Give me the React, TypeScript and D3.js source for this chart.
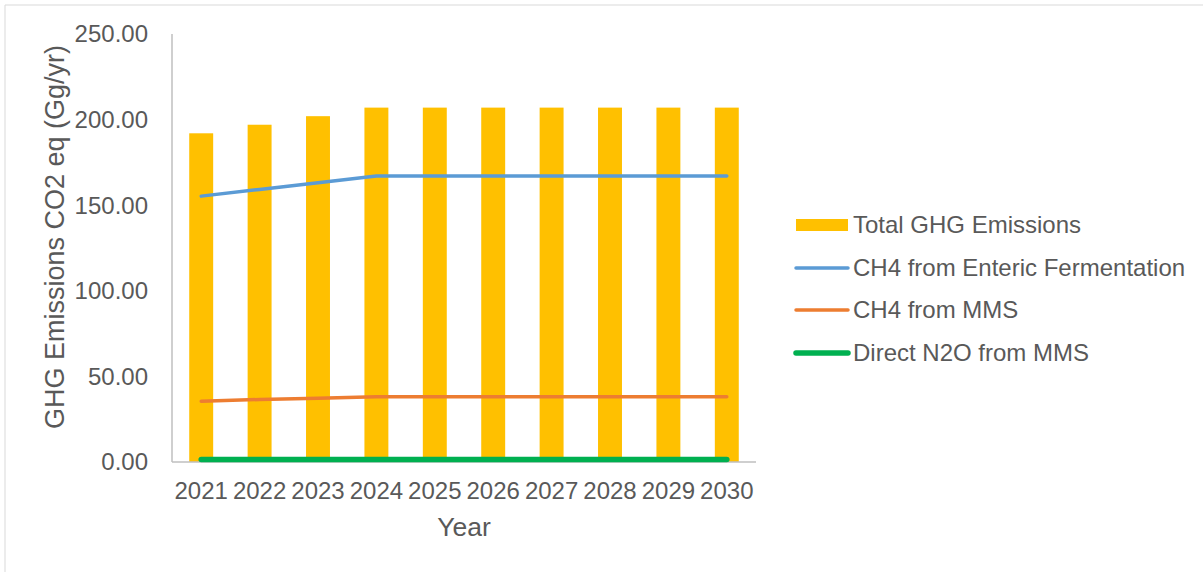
import React from "react";
import * as d3 from "d3";

const years = ["2021", "2022", "2023", "2024", "2025", "2026", "2027", "2028", "2029", "2030"];
const totalGHG = [192, 197, 202, 207, 207, 207, 207, 207, 207, 207];
const ch4Enteric = [155.3, 159.2, 163.1, 167, 167, 167, 167, 167, 167, 167];
const ch4MMS = [35.5, 36.5, 37.3, 38.1, 38.1, 38.1, 38.1, 38.1, 38.1, 38.1];
const n2oMMS = [1.5, 1.5, 1.5, 1.5, 1.5, 1.5, 1.5, 1.5, 1.5, 1.5];
const yTicks = [0, 50, 100, 150, 200, 250];

const lineSeries = [
  { name: "CH4 from Enteric Fermentation", values: ch4Enteric, color: "#5B9BD5", width: 3.5 },
  { name: "CH4 from MMS", values: ch4MMS, color: "#ED7D31", width: 3.5 },
  { name: "Direct N2O from MMS", values: n2oMMS, color: "#00B050", width: 5.5 },
];

const FONT = "'Liberation Sans', Arial, sans-serif";
const TXT = "#595959";

export default function App() {
  const W = 1203, H = 572;
  const left = 172, right = 756, top = 34, bottom = 462;
  const x = d3.scaleBand<string>().domain(years).range([left, right]).paddingInner(0.59).paddingOuter(0.295);
  const xc = d3.scaleBand<string>().domain(years).range([left, right]);
  const y = d3.scaleLinear().domain([0, 250]).range([bottom, top]);
  const line = (vals: number[]) =>
    d3.line<number>().x((_, i) => (xc(years[i]) as number) + xc.bandwidth() / 2).y((v) => y(v))(vals) as string;

  const legendX = 796;
  const legendRows = [225, 268, 310, 353];

  return (
    <svg width={W} height={H} style={{ position: "absolute", left: 0, top: 0, background: "#fff" }} fontFamily={FONT}>
      <line x1={5} x2={5} y1={5} y2={H} stroke="#d9d9d9" strokeWidth={1} />
      <line x1={5} x2={W} y1={5} y2={5} stroke="#d9d9d9" strokeWidth={1} />
      {/* y axis line */}
      <line x1={left} x2={left} y1={top} y2={bottom} stroke="#bfbfbf" strokeWidth={1.5} />
      {yTicks.map((t) => (
        <text key={t} x={148} y={y(t)} dy="0.35em" textAnchor="end" fontSize={24} fill={TXT}>
          {t.toFixed(2)}
        </text>
      ))}
      {/* bars */}
      {years.map((yr, i) => (
        <rect key={yr} x={x(yr)} y={y(totalGHG[i])} width={x.bandwidth()} height={bottom - y(totalGHG[i])} fill="#FFC000" />
      ))}
      {/* x axis line */}
      <line x1={left} x2={right} y1={bottom} y2={bottom} stroke="#bfbfbf" strokeWidth={1.5} />
      {/* lines */}
      {lineSeries.map((s) => (
        <path key={s.name} d={line(s.values)} fill="none" stroke={s.color} strokeWidth={s.width} strokeLinecap="round" strokeLinejoin="round" />
      ))}
      {years.map((yr) => (
        <text key={yr} x={(xc(yr) as number) + xc.bandwidth() / 2} y={491} dy="0.35em" textAnchor="middle" fontSize={24} fill={TXT}>
          {yr}
        </text>
      ))}
      <text x={(left + right) / 2} y={527} dy="0.35em" textAnchor="middle" fontSize={26.5} fill={TXT}>
        Year
      </text>
      <text transform={`translate(55,237) rotate(-90)`} dy="0.35em" textAnchor="middle" fontSize={27} fill={TXT}>
        GHG Emissions CO2 eq (Gg/yr)
      </text>
      {/* legend */}
      <rect x={legendX} y={legendRows[0] - 6} width={52} height={12} fill="#FFC000" />
      <text x={853} y={legendRows[0]} dy="0.35em" fontSize={24} fill={TXT}>Total GHG Emissions</text>
      {lineSeries.map((s, i) => (
        <g key={s.name}>
          <line x1={legendX} x2={legendX + 52} y1={legendRows[i + 1]} y2={legendRows[i + 1]} stroke={s.color} strokeWidth={s.width} strokeLinecap="round" />
          <text x={853} y={legendRows[i + 1]} dy="0.35em" fontSize={24} fill={TXT}>{s.name}</text>
        </g>
      ))}
    </svg>
  );
}
